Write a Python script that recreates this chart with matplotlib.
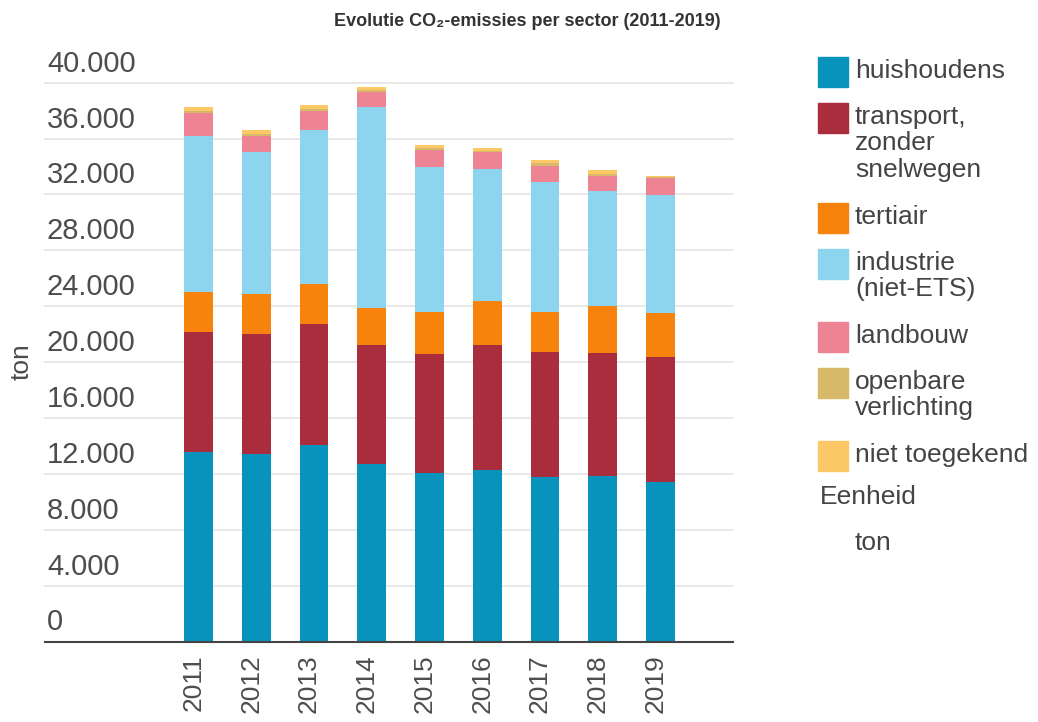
import numpy as np
import matplotlib
matplotlib.use("Agg")
import matplotlib.pyplot as plt
from matplotlib.patches import Rectangle

plt.rcParams['font.family'] = ['Liberation Sans', 'DejaVu Sans']

years = ['2011', '2012', '2013', '2014', '2015', '2016', '2017', '2018', '2019']

# emissies per sector, ton CO2
huishoudens = [13550, 13430, 14070, 12710, 12050, 12280, 11800, 11820, 11450]
transport = [8590, 8570, 8670, 8520, 8520, 8950, 8910, 8840, 8910]
tertiair = [2890, 2860, 2870, 2670, 3050, 3130, 2910, 3320, 3150]
industrie = [11170, 10170, 10980, 14350, 10310, 9480, 9270, 8290, 8420]
landbouw = [1630, 1170, 1360, 1050, 1220, 1170, 1170, 1020, 1250]
openbare_verlichting = [170, 150, 190, 160, 140, 130, 170, 190, 50]
niet_toegekend = [260, 230, 290, 230, 220, 210, 260, 290, 65]

sectors = ['huishoudens', 'transport,\nzonder\nsnelwegen', 'tertiair',
           'industrie\n(niet-ETS)', 'landbouw', 'openbare\nverlichting',
           'niet toegekend']
series = [huishoudens, transport, tertiair, industrie, landbouw,
          openbare_verlichting, niet_toegekend]
colors = ['#0893bd', '#a92d3c', '#f7830c', '#8dd4ee', '#ee8394',
          '#d6b969', '#fdc866']

y_ticks = [0, 4000, 8000, 12000, 16000, 20000, 24000, 28000, 32000, 36000, 40000]

W, H = 1038, 722
fig = plt.figure(figsize=(W / 100, H / 100), dpi=100)
left, right, bottom, top = 45, 733, 641.5, 82.7
ax = fig.add_axes([left / W, 1 - bottom / H, (right - left) / W, (bottom - top) / H])

x = np.arange(len(years))
base = np.zeros(len(years))
for vals, col in zip(series, colors):
    ax.bar(x, vals, width=0.5, bottom=base, color=col, linewidth=0, zorder=2)
    base += np.array(vals)

ax.set_xlim(-2.658, 9.255)
ax.set_ylim(0, 40000)

# grid and y labels sit inside the plot, just above each line
for t in y_ticks[1:]:
    ax.axhline(t, color='#e6e6e6', lw=1.3, zorder=0, clip_on=False)
off = matplotlib.transforms.ScaledTranslation(0.02, 0.19, fig.dpi_scale_trans)
for t in y_ticks:
    lbl = f'{t:,}'.replace(',', '.')
    ax.text(0, t, lbl, transform=ax.get_yaxis_transform() + off,
            ha='left', va='center', fontsize=21, color='#4d4d4d')

for s in ['left', 'right', 'top']:
    ax.spines[s].set_visible(False)
ax.spines['bottom'].set_color('#444444')
ax.spines['bottom'].set_linewidth(1.5)
ax.set_yticks([])
ax.set_xticks(x)
ax.set_xticklabels(years, rotation=90, fontsize=19, color='#4d4d4d', va='top')
ax.tick_params(axis='x', length=0, pad=9)
for lbl in ax.get_xticklabels():
    lbl.set_transform(lbl.get_transform() +
                      matplotlib.transforms.ScaledTranslation(-0.05, 0, fig.dpi_scale_trans))

fig.text(22 / W, 1 - 362 / H, 'ton', rotation=90, ha='center', va='center',
         fontsize=19, color='#4d4d4d')

fig.text(527 / W, 1 - 22 / H, 'Evolutie CO\u2082-emissies per sector (2011-2019)',
         ha='center', va='center', fontsize=13, fontweight='bold', color='#333333')

# legend on the right
y = 72
for name, col in zip(sectors, colors):
    fig.patches.append(Rectangle((818 / W, 1 - (y + 15) / H), 30 / W, 30 / H,
                                 color=col, transform=fig.transFigure))
    fig.text(855 / W, 1 - (y - 13) / H, name, ha='left', va='top',
             fontsize=19, color='#444444', linespacing=1.12)
    y += 27 * (name.count('\n')) + 46
fig.text(820 / W, 1 - 497 / H, 'Eenheid', ha='left', va='center',
         fontsize=19, color='#444444')
fig.text(855 / W, 1 - 543 / H, 'ton', ha='left', va='center',
         fontsize=19, color='#444444')

fig.savefig('out.png', dpi=100)
